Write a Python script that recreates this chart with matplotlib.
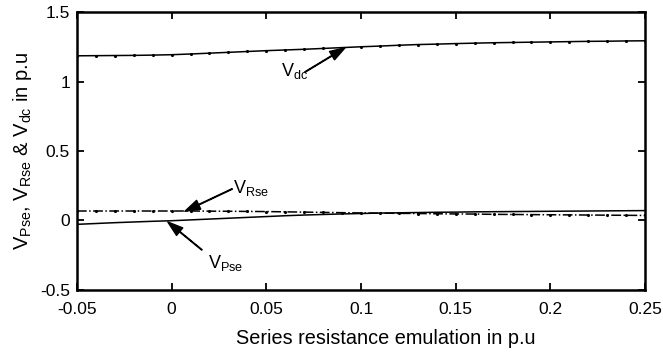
import matplotlib
matplotlib.use("Agg")
import matplotlib.pyplot as plt
import numpy as np

plt.rcParams['font.family'] = ['Liberation Sans', 'DejaVu Sans']
plt.rcParams['mathtext.fontset'] = 'custom'
plt.rcParams['mathtext.rm'] = 'Liberation Sans'
plt.rcParams['mathtext.it'] = 'Liberation Sans'

# series resistance emulation (p.u)
r_se = [-0.05, -0.04, -0.03, -0.02, -0.01, 0.0, 0.01, 0.02, 0.03, 0.04, 0.05,
        0.06, 0.07, 0.08, 0.09, 0.10, 0.11, 0.12, 0.13, 0.14, 0.15,
        0.16, 0.17, 0.18, 0.19, 0.20, 0.21, 0.22, 0.23, 0.24, 0.25]
v_dc = [1.185, 1.186, 1.187, 1.188, 1.190, 1.193, 1.198, 1.204, 1.210, 1.216, 1.222,
        1.227, 1.232, 1.238, 1.244, 1.250, 1.255, 1.261, 1.266, 1.269, 1.273,
        1.276, 1.279, 1.281, 1.283, 1.285, 1.287, 1.289, 1.290, 1.292, 1.293]
v_rse = [0.068, 0.068, 0.068, 0.068, 0.068, 0.068, 0.068, 0.067, 0.066, 0.065, 0.064,
         0.062, 0.060, 0.058, 0.056, 0.054, 0.053, 0.051, 0.050, 0.048, 0.047,
         0.046, 0.044, 0.043, 0.042, 0.041, 0.040, 0.039, 0.038, 0.037, 0.036]
v_pse = [-0.028, -0.022, -0.016, -0.011, -0.006, -0.002, 0.004, 0.010, 0.016, 0.022, 0.028,
         0.034, 0.039, 0.043, 0.047, 0.050, 0.053, 0.055, 0.057, 0.059, 0.060,
         0.062, 0.063, 0.064, 0.065, 0.066, 0.067, 0.068, 0.069, 0.070, 0.071]

fig = plt.figure(figsize=(6.63, 3.54), dpi=100)
ax = fig.add_axes([0.116, 0.181, 0.857, 0.785])

ax.plot(r_se, v_dc, color='black', linewidth=1.1, marker='.', markersize=2.5)
ax.plot(r_se, v_rse, color='black', linewidth=1.1, linestyle='-.', marker='.', markersize=2.5)
ax.plot(r_se, v_pse, color='black', linewidth=1.1)

arrow = dict(facecolor='black', edgecolor='black', width=0.4, headwidth=7, headlength=11, shrink=0)
# Vdc
ax.annotate('', xy=(0.0916, 1.243), xytext=(0.0704, 1.068), arrowprops=arrow)
ax.text(0.058, 1.04, 'V$_{\\mathregular{dc}}$', fontsize=13, ha='left', va='baseline')
# VRse
ax.annotate('', xy=(0.007, 0.066), xytext=(0.032, 0.227), arrowprops=arrow)
ax.text(0.0324, 0.198, 'V$_{\\mathregular{Rse}}$', fontsize=13, ha='left', va='baseline')
# VPse
ax.annotate('', xy=(-0.002, -0.011), xytext=(0.016, -0.212), arrowprops=arrow)
ax.text(0.019, -0.342, 'V$_{\\mathregular{Pse}}$', fontsize=13, ha='left', va='baseline')

ax.set_xlim(-0.05, 0.25)
ax.set_ylim(-0.5, 1.5)
ax.set_xticks([-0.05, 0, 0.05, 0.1, 0.15, 0.2, 0.25])
ax.set_xticklabels(['-0.05', '0', '0.05', '0.1', '0.15', '0.2', '0.25'])
ax.set_yticks([-0.5, 0, 0.5, 1, 1.5])
ax.set_yticklabels(['-0.5', '0', '0.5', '1', '1.5'])
ax.tick_params(direction='in', top=True, right=True, labelsize=12.5, width=1.3, length=5)
ax.tick_params(axis='x', pad=9)
ax.tick_params(axis='y', pad=5)
for s in ax.spines.values():
    s.set_linewidth(1.8)

ax.set_xlabel('Series resistance emulation in p.u', fontsize=14.3)
ax.xaxis.set_label_coords(0.544, -0.14)
ax.set_ylabel('V$_{\\mathregular{Pse}}$, V$_{\\mathregular{Rse}}$ & V$_{\\mathregular{dc}}$ in p.u', fontsize=14.5)

fig.savefig('out.png', dpi=100)
